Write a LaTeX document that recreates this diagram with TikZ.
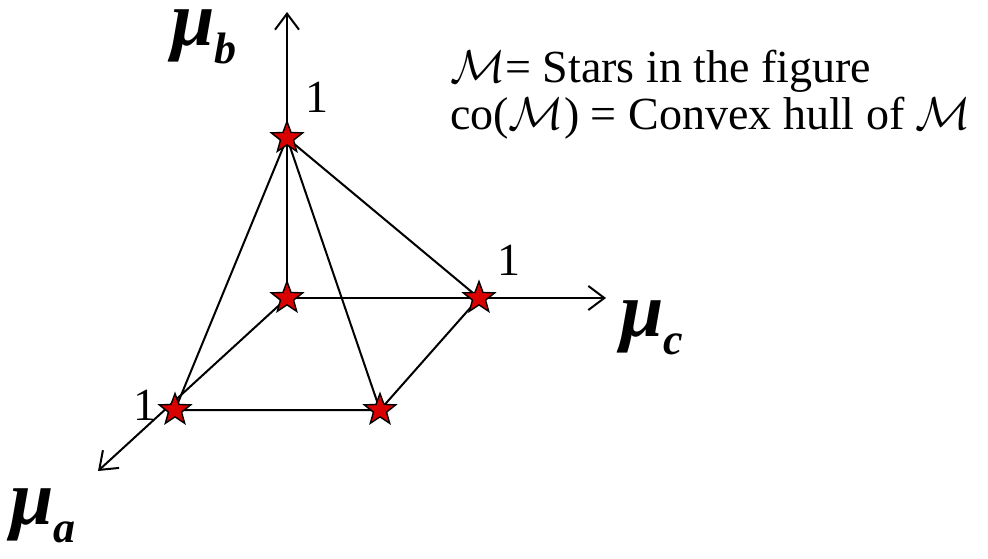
\RequirePackage{fix-cm}
\documentclass[tikz,border=0pt]{standalone}
\usepackage{fontspec}
\setmainfont{Liberation Serif}
\usetikzlibrary{shapes.geometric,arrows.meta}
\newcommand{\axisMu}[1]{{\fontsize{78}{78}\selectfont\bfseries\itshape μ}\raisebox{-18pt}{\fontsize{44}{44}\selectfont\bfseries\itshape #1}}
\tikzset{
  starmark/.style={star, star points=5, star point ratio=2.4, minimum size=33pt, inner sep=0pt,
    fill=red!85!black, draw=black, line width=1.4pt},
  axisline/.style={line width=2pt, -{Straight Barb[length=16pt,width=24pt,line width=2pt]}},
  hullline/.style={line width=2pt},
  onelabel/.style={anchor=base, inner sep=0pt, font=\fontsize{46}{46}\selectfont},
  deftext/.style={anchor=base west, inner sep=0pt, text depth=0pt, font=\fontsize{46}{46}\selectfont},
}

\begin{document}
\begin{tikzpicture}[x=1pt,y=-1pt]
\useasboundingbox (0,0) rectangle (988,559);
\coordinate (O) at (287,298);
\coordinate (B) at (287,138);
\coordinate (C) at (479,298);
\coordinate (A) at (175,410);
\coordinate (AC) at (380,410);
\coordinate (tipb) at (287,12);
\coordinate (tipc) at (606,298);
\coordinate (tipa) at (98,471);
\draw[axisline] (O) -- (tipb);
\draw[axisline] (O) -- (tipc);
\draw[axisline] (O) -- (tipa);
\draw[hullline] (B) -- (A) -- (AC) -- (C) -- (B) -- (AC);
\node[starmark] (starO) at (O) {};
\node[starmark] (starB) at (B) {};
\node[starmark] (starC) at (C) {};
\node[starmark] (starA) at (A) {};
\node[starmark] (starAC) at (AC) {};
\node[onelabel] (oneb) at (317,113) {1};
\node[onelabel] (onec) at (509,275) {1};
\node[onelabel] (onea) at (145,420) {1};
\node[anchor=base west, inner sep=0pt] (mub) at (171,46) {\axisMu{b}};
\node[anchor=base west, inner sep=0pt] (muc) at (620,336) {\axisMu{c}};
\node[anchor=base west, inner sep=0pt] (mua) at (10,524) {\axisMu{a}};
\node[deftext] (defM) at (450,83) {$\mathcal{M}$= Stars in the figure};
\node[deftext] (defco) at (450,130) {co($\mathcal{M}$) = Convex hull of $\mathcal{M}$};
\end{tikzpicture}
\end{document}
